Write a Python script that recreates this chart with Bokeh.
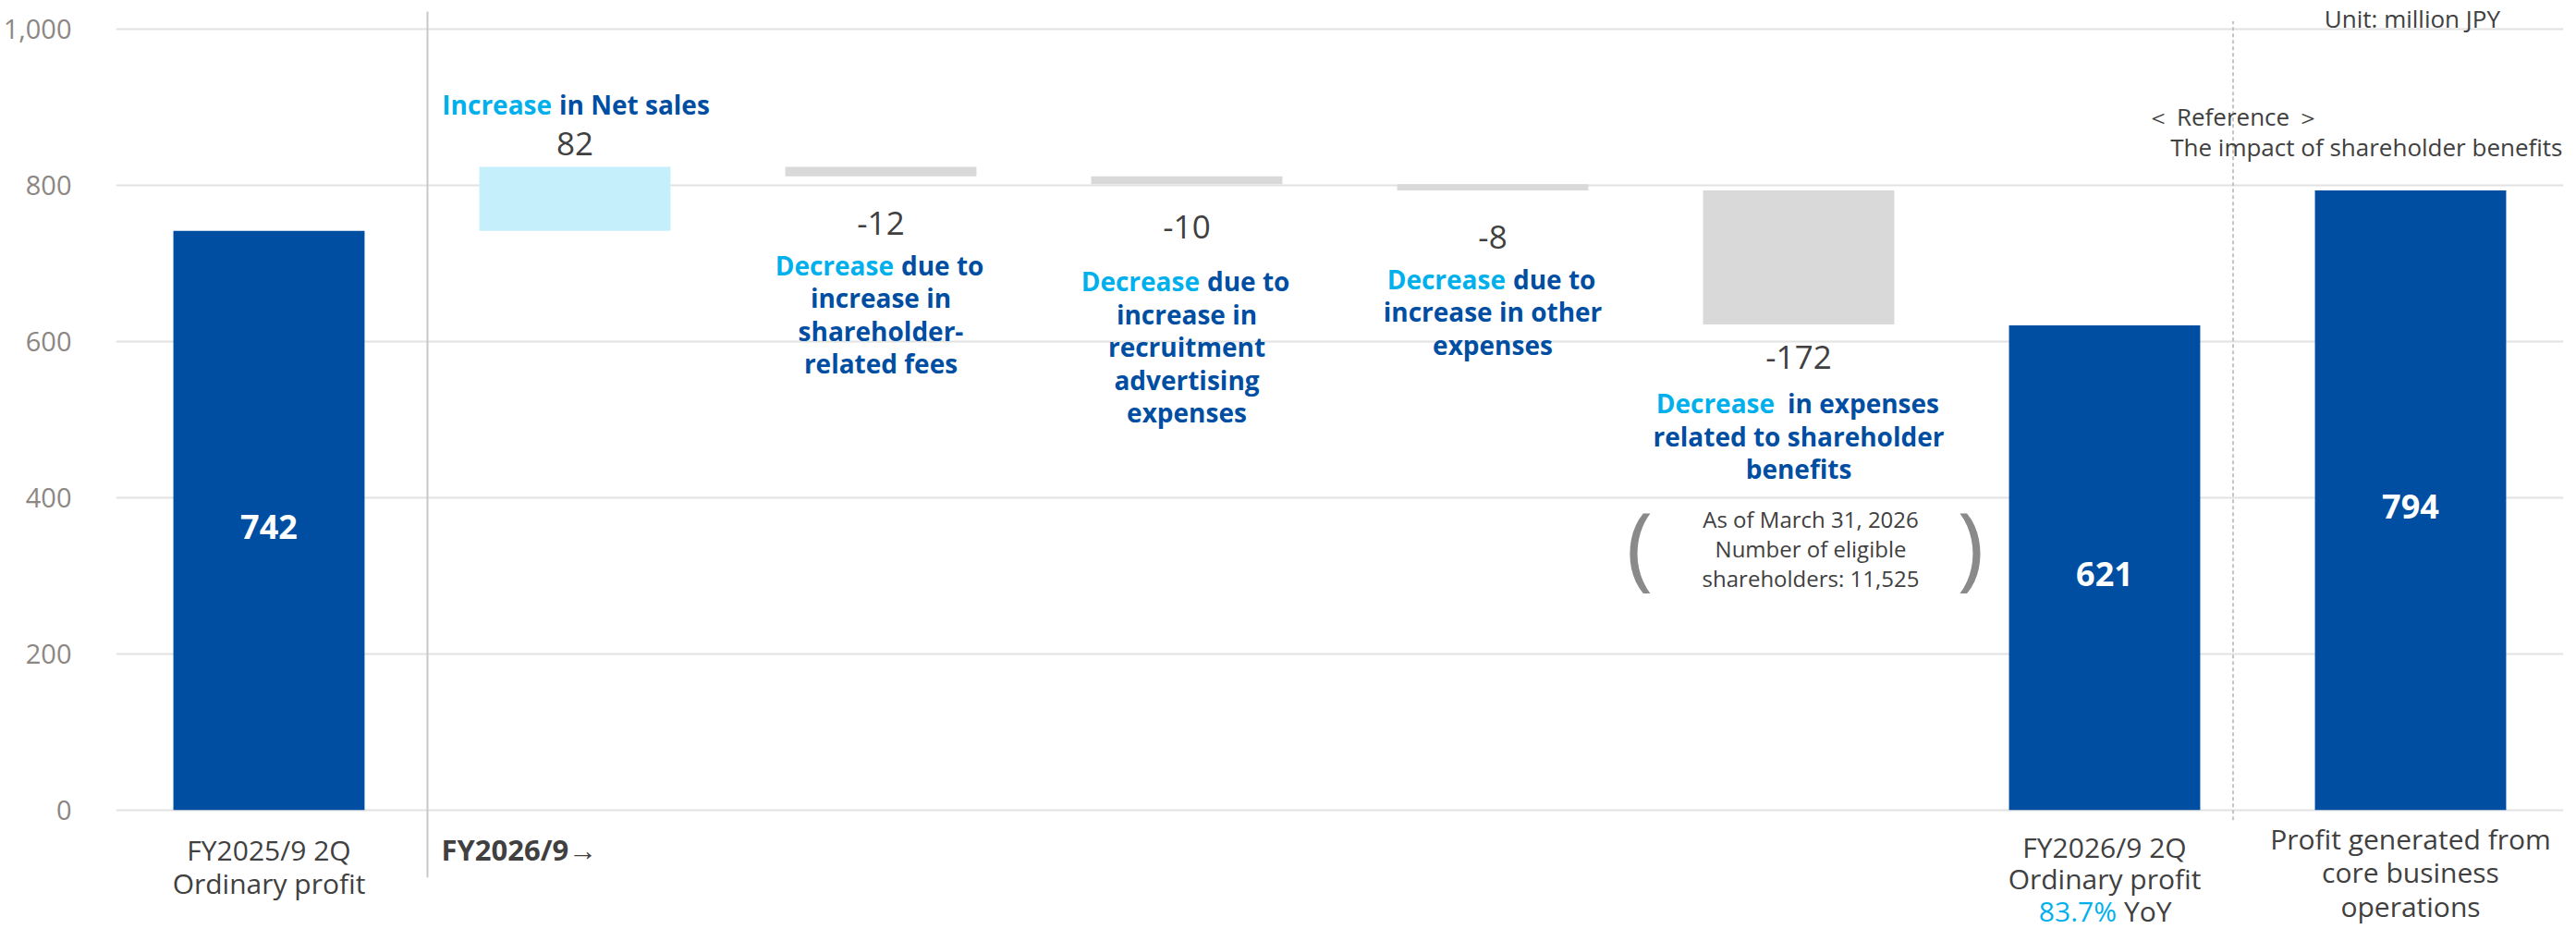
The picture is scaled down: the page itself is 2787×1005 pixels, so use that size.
from bokeh.plotting import figure
from bokeh.models import Range1d, FixedTicker, NumeralTickFormatter, ColumnDataSource
from bokeh.core.properties import value
from bokeh.embed import file_html
from bokeh.resources import INLINE

# ---------------- data ----------------
keys = ["prev", "sales", "fees", "recruit", "other", "benefits", "curr", "core"]
kinds = ["total", "up", "down", "down", "down", "down", "total", "total"]
amounts = [742, 82, -12, -10, -8, -172, 621, 794]
y_ticks = [0, 200, 400, 600, 800, 1000]

total_labels = {"prev": "742", "curr": "621", "core": "794"}
delta_labels = {"sales": "82", "fees": "-12", "recruit": "-10", "other": "-8", "benefits": "-172"}

cat_labels = {
    "prev": [["FY2025/9 2Q"], ["Ordinary profit"]],
    "curr": [["FY2026/9 2Q"], ["Ordinary profit"], ["83.7%", "YoY"]],
    "core": [["Profit generated from"], ["core business"], ["operations"]],
}
period_label = "FY2026/9→"

descriptions = {
    "sales": [["Increase", "in Net sales"]],
    "fees": [["Decrease", "due to"], ["increase in"], ["shareholder-"], ["related fees"]],
    "recruit": [["Decrease", "due to"], ["increase in"], ["recruitment"], ["advertising"], ["expenses"]],
    "other": [["Decrease", "due to"], ["increase in other"], ["expenses"]],
    "benefits": [["Decrease", "in expenses"], ["related to shareholder"], ["benefits"]],
}
note_lines = ["As of March 31, 2026", "Number of eligible", "shareholders: 11,525"]
unit_text = "Unit: million JPY"
ref_title = "＜ Reference ＞"
ref_sub = "The impact of shareholder benefits"

# ---------------- styles ----------------
FONT = value("Open Sans")
C_TOTAL = "#004ea2"
C_UP = "#c6effc"
C_DOWN = "#d9d9d9"
C_CYAN = "#00b0ec"
C_BLUE = "#004ea2"
C_TEXT = "#404040"
C_AXIS = "#8c8783"

W, H = 2787, 1005
ML, MR = 124, 14
FW = W - ML - MR
X0, X1 = -0.5, 7.5
Y0, Y1 = -153.2, 1037.3
PX = (X1 - X0) / FW
PY = (Y1 - Y0) / H

# waterfall geometry from the data
bottoms, tops, colors = [], [], []
running = 0
for k, a in zip(kinds, amounts):
    if k == "total":
        bottoms.append(0); tops.append(a); colors.append(C_TOTAL); running = a
    else:
        nxt = running + a
        bottoms.append(min(running, nxt)); tops.append(max(running, nxt))
        colors.append(C_UP if a > 0 else C_DOWN)
        running = nxt
idx = list(range(len(keys)))

p = figure(width=W, height=H, x_range=Range1d(X0, X1), y_range=Range1d(Y0, Y1),
           x_axis_type=None, output_backend="svg", toolbar_location=None,
           min_border_left=ML, min_border_right=MR, min_border_top=0, min_border_bottom=0)
p.outline_line_color = None
p.background_fill_color = "white"
p.border_fill_color = "white"

p.yaxis.ticker = FixedTicker(ticks=y_ticks)
p.yaxis.formatter = NumeralTickFormatter(format="0,0")
p.yaxis.axis_line_color = None
p.yaxis.major_tick_line_color = None
p.yaxis.minor_tick_line_color = None
p.yaxis.major_label_standoff = 42
p.yaxis.major_label_text_font = "Open Sans"
p.yaxis.major_label_text_font_size = "29px"
p.yaxis.major_label_text_color = C_AXIS
p.ygrid.ticker = FixedTicker(ticks=y_ticks)
p.ygrid.grid_line_color = "#e2e2e2"
p.ygrid.grid_line_width = 2

src = ColumnDataSource(dict(x=idx, bottom=bottoms, top=tops, color=colors))
p.vbar(x="x", width=0.625, bottom="bottom", top="top", fill_color="color", line_color=None, source=src)

# divider lines
i_sales = keys.index("sales")
i_curr = keys.index("curr")
xs = i_sales - 0.5 + 6 * PX
p.segment(x0=[xs], x1=[xs], y0=[0 - 73 * PY], y1=[Y1 - 12 * PY],
          line_color="#c8c8c8", line_width=2)
xd = i_curr + 0.42
p.segment(x0=[xd], x1=[xd], y0=[0 - 11 * PY], y1=[1000 + 9 * PY],
          line_color="#c4c4c4", line_width=2, line_dash="4 3")


def txt(x, y, s, size, color, bold=False, align="center", baseline="middle", dx=0, dy=0):
    p.text(x=[x + dx * PX], y=[y - dy * PY], text=[s], text_font=FONT,
           text_font_size=f"{size}px", text_font_style="bold" if bold else "normal",
           text_color=color, text_align=align, text_baseline=baseline)


def block(x, y, lines, size, bold, lh, splits, first_colors, rest_color):
    for n, line in enumerate(lines):
        yy = y - n * lh * PY
        if len(line) == 1:
            txt(x, yy, line[0], size, rest_color, bold)
        else:
            sp, gap = splits[n]
            txt(x, yy, line[0], size, first_colors[0], bold, align="right", dx=sp)
            txt(x, yy, line[1], size, first_colors[1], bold, align="left", dx=sp + gap)


# values inside total bars
for k, lab in total_labels.items():
    i = keys.index(k)
    txt(i, tops[i] / 2, lab, 36, "white", bold=True, dy=7)

# delta value labels and descriptions
val_off = {"fees": 51, "recruit": 46, "other": 51, "benefits": 35}
desc_off = {"fees": 45, "recruit": 59, "other": 45, "benefits": 50}
desc_split = {"fees": (14, 8), "recruit": (14, 8), "other": (14, 8), "benefits": (-26, 14)}
for k, lab in delta_labels.items():
    i = keys.index(k)
    if amounts[i] > 0:
        txt(i, tops[i], lab, 35, C_TEXT, dy=-25)
        block(i, tops[i] + 68 * PY, descriptions[k], 28, True, 35.5,
              {0: (-25, 8)}, (C_CYAN, C_BLUE), C_BLUE)
    else:
        yv = bottoms[i] - val_off[k] * PY
        txt(i, yv, lab, 35, C_TEXT)
        block(i, yv - desc_off[k] * PY, descriptions[k], 28, True, 35.5,
              {0: desc_split[k]}, (C_CYAN, C_BLUE), C_BLUE)

# note with parentheses under the shareholder-benefit bar
ib = keys.index("benefits")
ny = bottoms[ib] - 210 * PY
for n, s in enumerate(note_lines):
    txt(ib, ny - n * 32 * PY, s, 24, C_TEXT, dx=13)
txt(ib, ny - 32 * PY, "(", 98, "#8a8a8a", dx=-172, dy=-5)
txt(ib, ny - 32 * PY, ")", 98, "#8a8a8a", dx=186, dy=-5)

# category labels under the axis
cat_first = {"prev": 43, "curr": 40, "core": 31}
cat_lh = {"prev": 36.5, "curr": 34.5, "core": 36.5}
for k, lines in cat_labels.items():
    i = keys.index(k)
    block(i, 0 - cat_first[k] * PY, lines, 30, False, cat_lh[k],
          {2: (13, 8)}, (C_CYAN, C_TEXT), C_TEXT)
txt(xs, 0 - 43 * PY, period_label, 31, C_TEXT, bold=True, align="left", dx=15)

# reference annotations
ic = keys.index("core")
txt(xd, tops[ic] + 80 * PY, ref_title, 26, C_TEXT)
txt(X1, tops[ic] + 47 * PY, ref_sub, 26, C_TEXT, align="right", dx=-1)
txt(ic, Y1 - 1 * PY, unit_text, 26, C_TEXT, align="right", baseline="top", dx=97)

open("out.html", "w").write(file_html(p, INLINE))
